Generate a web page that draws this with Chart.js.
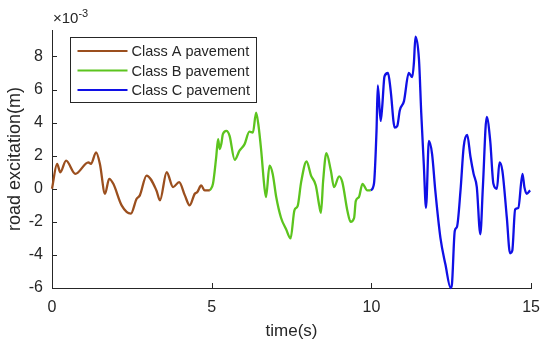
<!DOCTYPE html>
<html>
<head>
<meta charset="utf-8">
<script src="https://cdn.jsdelivr.net/npm/chart.js@4.4.1/dist/chart.umd.min.js"></script>
<style>
  html, body { margin: 0; padding: 0; background: #fff; }
  #wrap { width: 550px; height: 347px; position: relative; }
</style>
</head>
<body>
<div id="wrap"><canvas id="road-chart"></canvas></div>
<script>
// road excitation, in units of 1e-3 m

const timeA = [0, 0.16, 0.26, 0.44, 0.73, 1.14, 1.22, 1.38, 1.5, 1.66, 1.79, 1.92, 2.18, 2.47, 2.65, 2.75, 2.96, 3.27, 3.38, 3.59, 3.79, 3.98, 4.16, 4.31, 4.47, 4.55, 4.67, 4.78, 4.94];
const roadA = [0, 1.5, 1.0, 1.7, 0.9, 1.6, 1.5, 2.2, 1.5, -0.3, 0.6, 0.3, -1.0, -1.5, -0.6, -0.4, 0.8, -0.1, -0.7, 1.0, 0.1, 0.4, -0.4, -1.0, -0.3, -0.2, 0.2, -0.1, -0.1];

const timeB = [4.94, 5.04, 5.14, 5.2, 5.25, 5.3, 5.35, 5.46, 5.56, 5.72, 5.87, 6.03, 6.18, 6.29, 6.39, 6.46, 6.55, 6.65, 6.7, 6.81, 6.91, 7.02, 7.17, 7.33, 7.47, 7.59, 7.69, 7.8, 7.97, 8.11, 8.26, 8.37, 8.42, 8.49, 8.59, 8.73, 8.83, 8.99, 9.09, 9.25, 9.35, 9.46, 9.51, 9.61, 9.72, 9.87, 9.98];
const roadB = [-0.1, 0.3, 1.9, 3.0, 2.4, 2.7, 3.3, 3.5, 3.2, 1.75, 2.3, 2.7, 3.45, 3.4, 4.6, 3.9, 2.3, 0.1, -0.5, 1.4, 0.9, -0.5, -1.75, -2.45, -3.0, -1.3, -1.05, 0.4, 1.65, 0.8, 0.2, -1.05, -1.45, 0.5, 2.15, 1.1, 0.1, 0.75, 0.4, -1.35, -2.0, -1.75, -0.75, -0.5, 0.3, -0.1, -0.1];

const timeC = [9.98, 10.08, 10.16, 10.2, 10.29, 10.34, 10.41, 10.52, 10.6, 10.73, 10.81, 10.89, 11.02, 11.17, 11.28, 11.33, 11.38, 11.49, 11.56, 11.64, 11.71, 11.8, 11.9, 12.0, 12.16, 12.32, 12.48, 12.52, 12.61, 12.68, 12.79, 12.89, 13.0, 13.1, 13.2, 13.3, 13.41, 13.49, 13.61, 13.72, 13.82, 13.93, 14.01, 14.1, 14.24, 14.34, 14.41, 14.5, 14.6, 14.73, 14.79, 14.86, 14.97];
const roadC = [-0.1, 0.3, 3.5, 6.25, 4.1, 5.0, 6.8, 7.0, 6.0, 3.7, 3.8, 4.75, 5.3, 7.0, 6.75, 7.6, 9.2, 7.8, 4.6, 1.5, -1.15, 2.9, 2.1, -0.1, -2.95, -4.6, -6.0, -5.8, -2.55, -2.3, -0.1, 2.55, 3.25, 1.95, 0.9, 0.1, -2.75, 0.1, 4.35, 2.9, 0.3, 0.0, 1.6, 1.1, -1.75, -3.9, -3.75, -1.25, -1.15, 0.9, 0.1, -0.3, -0.1];

const seriesLabels = ['Class A pavement', 'Class B pavement', 'Class C pavement'];
const xTicks = [0, 5, 10, 15];
const yTicks = [-6, -4, -2, 0, 2, 4, 6, 8];

const SERIES_COLORS = ['#9b4f1e', '#5cc41e', '#1010e6'];
const AXIS_COLOR = '#262626';
const FONT = 'Liberation Sans, Arial, Helvetica, sans-serif';

function toPoints(xs, ys) {
  return xs.map((x, i) => ({ x, y: ys[i] }));
}

// MATLAB style: ticks pointing into the plot, exponent label, boxed legend
const matlabDecor = {
  id: 'matlabDecor',
  afterDraw(chart) {
    const { ctx, chartArea, scales } = chart;
    const { left, top, bottom } = chartArea;
    ctx.save();
    ctx.strokeStyle = AXIS_COLOR;
    ctx.lineWidth = 1;
    ctx.beginPath();
    scales.x.ticks.forEach(t => {
      const px = Math.round(scales.x.getPixelForValue(t.value)) + 0.5;
      ctx.moveTo(px, bottom);
      ctx.lineTo(px, bottom - 5);
    });
    scales.y.ticks.forEach(t => {
      const py = Math.round(scales.y.getPixelForValue(t.value)) + 0.5;
      ctx.moveTo(left, py);
      ctx.lineTo(left + 5, py);
    });
    ctx.stroke();

    // x10^-3 multiplier
    ctx.fillStyle = AXIS_COLOR;
    ctx.textBaseline = 'alphabetic';
    ctx.textAlign = 'left';
    ctx.font = '15px ' + FONT;
    ctx.fillText('\u00d710', left + 1, top - 7);
    const w = ctx.measureText('\u00d710').width;
    ctx.font = '11px ' + FONT;
    ctx.fillText('-3', left + 1 + w, top - 13);

    // legend
    const box = { x: 70.5, y: 37.5, w: 186, h: 65 };
    ctx.fillStyle = '#fff';
    ctx.fillRect(box.x, box.y, box.w, box.h);
    ctx.strokeStyle = AXIS_COLOR;
    ctx.strokeRect(box.x, box.y, box.w, box.h);
    ctx.font = '14.5px ' + FONT;
    ctx.textBaseline = 'middle';
    chart.data.datasets.forEach((ds, i) => {
      const rowY = box.y + 13.5 + i * 19.5;
      ctx.strokeStyle = ds.borderColor;
      ctx.lineWidth = 2;
      ctx.beginPath();
      ctx.moveTo(box.x + 7, rowY);
      ctx.lineTo(box.x + 57, rowY);
      ctx.stroke();
      ctx.fillStyle = AXIS_COLOR;
      ctx.fillText(ds.label, box.x + 61, rowY + 1);
    });
    ctx.restore();
  }
};

const datasets = [
  { data: toPoints(timeA, roadA) },
  { data: toPoints(timeB, roadB) },
  { data: toPoints(timeC, roadC) },
].map((ds, i) => ({
  ...ds,
  label: seriesLabels[i],
  borderColor: SERIES_COLORS[i],
  backgroundColor: SERIES_COLORS[i],
  borderWidth: 2.3,
  pointRadius: 0,
  cubicInterpolationMode: 'monotone',
  clip: false,
}));

new Chart(document.getElementById('road-chart'), {
  type: 'line',
  data: { datasets },
  options: {
    responsive: true,
    maintainAspectRatio: false,
    animation: false,
    layout: { padding: { top: 30, right: 17, left: 0, bottom: 0 } },
    plugins: { legend: { display: false }, tooltip: { enabled: false } },
    scales: {
      x: {
        type: 'linear',
        min: 0,
        max: 15,
        afterBuildTicks: scale => { scale.ticks = xTicks.map(value => ({ value })); },
        afterFit: scale => { scale.height = 59; },
        grid: { display: false, drawTicks: false },
        border: { display: true, color: AXIS_COLOR, width: 1 },
        ticks: { color: AXIS_COLOR, padding: 10, maxRotation: 0, font: { family: FONT, size: 16 } },
        title: { display: true, text: 'time(s)', color: AXIS_COLOR, padding: { top: 0, bottom: 5 }, font: { family: FONT, size: 17 } },
      },
      y: {
        type: 'linear',
        min: -6,
        max: 9.6,
        afterBuildTicks: scale => { scale.ticks = yTicks.map(value => ({ value })); },
        afterFit: scale => { scale.width = 52; },
        grid: { display: false, drawTicks: false },
        border: { display: true, color: AXIS_COLOR, width: 1 },
        ticks: { color: AXIS_COLOR, padding: 9, font: { family: FONT, size: 16 } },
        title: { display: true, text: 'road excitation(m)', color: AXIS_COLOR, padding: { top: 4, bottom: 0 }, font: { family: FONT, size: 18 } },
      },
    },
  },
  plugins: [matlabDecor],
});
</script>
</body>
</html>
